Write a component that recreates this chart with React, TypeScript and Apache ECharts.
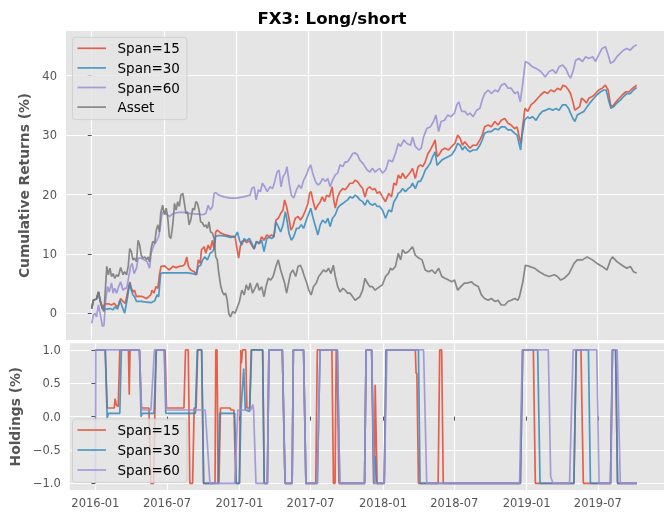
import React, { useEffect, useRef } from "react";
import * as echarts from "echarts";

// x values are days counted from 2016-01-01
const TITLE = "FX3: Long/short";
const X_TICK_DAYS = [0, 182, 366, 547, 731, 912, 1096, 1277];
const X_TICK_LABELS = ["2016-01", "2016-07", "2017-01", "2017-07", "2018-01", "2018-07", "2019-01", "2019-07"];
const RET_TICKS = [0, 10, 20, 30, 40];
const RET_TICK_LABELS = ["0", "10", "20", "30", "40"];
const HOLD_TICKS = [-1, -0.5, 0, 0.5, 1];
const HOLD_TICK_LABELS = ["\u22121.0", "\u22120.5", "0.0", "0.5", "1.0"];
const RET_NAMES = ["Span=15", "Span=30", "Span=60", "Asset"];
const HOLD_NAMES = ["Span=15", "Span=30", "Span=60"];

const assetReturns: [number, number][] = [
  [0,0.8],[4,2.2],[12,2.4],[17,3.6],[21,2.2],[27,0.8],[31,0.3],[38,7.9],[42,6.5],[46,7.6],[50,6.2],[54,6.7],[58,5.9],[63,6.5],[67,6.2],[73,7.7],[79,6.5],[83,7.0],[88,6.5],[92,7.9],[96,10.9],[100,10.4],[104,9.0],[108,9.3],[113,8.7],[117,12.3],[121,11.5],[125,9.8],[129,9.3],[134,9.5],[138,9.0],[142,9.5],[146,8.7],[150,10.9],[154,12.1],[159,11.8],[163,14.0],[167,14.9],[171,13.7],[174,16.8],[179,18.2],[184,16.6],[188,17.7],[192,16.0],[196,12.9],[200,12.6],[205,15.2],[209,18.5],[213,17.4],[217,18.8],[221,18.0],[225,19.9],[230,20.2],[234,18.5],[238,16.8],[242,17.1],[246,14.9],[250,15.7],[255,17.7],[259,17.4],[263,18.8],[267,18.5],[271,17.4],[275,15.4],[280,15.2],[284,14.6],[288,14.9],[292,14.3],[296,15.4],[300,13.7],[305,13.5],[309,12.6],[313,9.5],[317,9.0],[321,6.7],[326,4.5],[330,3.6],[334,3.1],[338,3.4],[342,2.2],[346,0],[350,-0.6],[356,0.3],[362,0],[368,1.1],[373,2.0],[379,3.9],[385,3.1],[390,4.8],[396,3.9],[400,5.1],[406,3.4],[412,4.2],[418,5.1],[423,3.9],[429,4.5],[435,2.8],[440,4.5],[446,5.9],[452,5.6],[458,6.2],[465,7.9],[471,9.0],[477,7.3],[482,6.2],[487,5.1],[492,3.4],[497,5.1],[502,6.7],[508,7.3],[515,6.2],[521,7.9],[527,8.1],[532,7.3],[537,6.2],[543,5.1],[548,3.9],[554,3.1],[560,4.5],[567,5.1],[573,6.2],[579,6.7],[585,7.3],[592,7.0],[598,7.6],[604,6.7],[610,8.1],[615,6.2],[621,4.5],[627,3.6],[634,4.2],[640,3.9],[646,3.4],[652,3.4],[659,2.8],[665,2.2],[671,2.5],[677,2.8],[684,3.9],[690,5.9],[696,5.1],[702,4.5],[709,4.5],[715,3.9],[721,4.2],[727,4.5],[734,4.8],[742,6.2],[750,6.8],[754,7.6],[759,7.3],[767,7.9],[774,10.1],[780,9.0],[785,10.7],[792,10.1],[800,10.4],[810,11.2],[817,9.8],[826,9.3],[834,9.0],[842,7.3],[851,7.0],[859,7.3],[867,6.7],[876,7.6],[884,6.2],[892,5.9],[901,5.6],[909,5.3],[916,5.6],[924,3.9],[932,4.5],[941,5.1],[949,5.1],[959,5.3],[967,4.8],[976,4.5],[984,3.1],[992,2.5],[1001,2.2],[1009,2.5],[1018,2.0],[1026,2.2],[1034,1.4],[1043,1.4],[1051,2.0],[1059,2.2],[1068,2.5],[1076,2.2],[1080,2.8],[1088,5.1],[1095,8.1],[1105,7.9],[1118,7.6],[1130,7.0],[1143,6.5],[1155,6.2],[1168,6.5],[1176,6.2],[1184,5.6],[1193,5.9],[1205,6.7],[1218,8.4],[1226,9.0],[1239,9.0],[1251,9.5],[1264,9.0],[1276,8.4],[1289,7.9],[1301,7.3],[1310,9.0],[1315,9.5],[1326,8.7],[1339,8.1],[1351,7.6],[1360,7.9],[1368,7.0],[1376,6.8]
];

const span60Returns: [number, number][] = [
  [0,-1.7],[4,-0.3],[8,0],[12,-0.6],[17,1.4],[22,-0.3],[27,-2.2],[31,-2.0],[35,2.2],[40,4.5],[44,3.6],[50,5.1],[54,3.4],[58,4.2],[63,3.4],[68,4.5],[73,5.3],[79,3.9],[83,4.2],[88,4.2],[92,5.6],[98,7.9],[102,8.4],[107,6.7],[113,7.6],[117,9.3],[124,9.3],[132,9.0],[140,8.7],[146,7.6],[150,10.1],[157,11.5],[163,12.1],[169,12.9],[173,14.6],[177,16.6],[180,17.1],[188,16.8],[196,16.3],[205,16.8],[213,16.9],[221,17.0],[230,17.0],[238,17.0],[246,16.8],[255,16.8],[263,16.7],[271,16.7],[280,16.6],[288,16.8],[294,18.2],[299,17.4],[305,18.0],[309,20.2],[313,20.3],[321,19.9],[334,19.6],[350,19.4],[366,19.4],[383,19.6],[400,19.9],[404,21.0],[410,21.3],[415,19.1],[421,20.8],[426,20.5],[431,21.9],[437,21.3],[443,20.5],[450,21.3],[457,21.0],[462,22.2],[468,23.8],[473,24.1],[478,21.3],[483,23.0],[489,23.6],[493,24.7],[498,22.2],[504,19.9],[510,19.4],[517,20.8],[523,21.6],[529,21.0],[535,22.4],[542,23.3],[548,24.4],[553,25.0],[558,23.6],[565,22.2],[571,21.6],[577,21.9],[583,22.7],[590,22.2],[596,22.7],[602,21.3],[608,22.4],[615,23.3],[621,23.6],[627,25.0],[634,24.7],[640,25.5],[646,25.5],[652,26.1],[659,26.9],[665,27.0],[671,26.7],[677,25.8],[684,25.3],[690,24.7],[696,24.1],[702,23.8],[709,24.4],[715,23.8],[721,24.1],[727,24.4],[734,23.6],[742,24.1],[750,25.8],[759,25.5],[767,26.9],[774,28.6],[780,28.1],[788,29.2],[796,28.6],[805,28.3],[810,29.7],[817,28.1],[826,27.5],[832,27.8],[838,29.7],[846,31.1],[855,31.4],[863,32.3],[869,33.4],[876,30.6],[882,32.3],[891,32.5],[899,33.4],[907,33.1],[916,33.7],[922,35.1],[927,35.6],[934,34.0],[942,34.0],[949,33.4],[955,33.7],[963,33.1],[972,34.2],[980,34.5],[986,35.9],[992,37.0],[1001,37.6],[1009,37.0],[1018,37.6],[1026,37.3],[1034,38.4],[1043,38.7],[1051,37.9],[1059,37.9],[1068,37.0],[1076,37.3],[1082,35.6],[1088,38.5],[1095,42.4],[1103,42.1],[1113,41.5],[1123,41.2],[1134,40.7],[1145,39.8],[1155,40.7],[1164,41.0],[1172,40.4],[1180,41.5],[1189,41.8],[1197,41.2],[1204,40.1],[1209,39.6],[1215,40.7],[1222,42.6],[1230,42.9],[1239,42.4],[1247,43.2],[1255,42.9],[1265,43.2],[1272,42.4],[1280,43.5],[1289,44.6],[1297,44.9],[1304,43.5],[1310,42.1],[1318,42.4],[1326,43.2],[1335,43.8],[1343,44.3],[1351,44.6],[1360,44.3],[1368,44.9],[1376,45.2]
];

const span15Returns: [number, number][] = [
  [0,0.8],[4,2.2],[12,2.4],[17,3.6],[21,2.2],[27,0.8],[29,1.1],[33,1.6],[42,1.6],[50,1.4],[57,1.7],[63,1.1],[68,1.4],[73,2.5],[79,2.0],[85,1.7],[90,3.4],[96,5.3],[100,4.2],[104,3.6],[108,3.9],[113,2.8],[118,2.9],[129,2.8],[138,2.5],[144,2.8],[149,3.1],[152,3.9],[157,3.4],[162,4.5],[167,4.2],[171,6.5],[175,7.9],[184,8.0],[190,7.6],[196,7.3],[205,7.9],[213,7.7],[221,7.9],[230,8.0],[235,8.3],[240,9.5],[244,7.9],[250,7.3],[259,7.0],[265,6.5],[269,9.0],[274,8.4],[277,10.7],[284,11.2],[288,10.1],[294,11.5],[299,10.7],[305,12.3],[309,10.7],[313,13.7],[317,14.0],[326,13.5],[338,13.2],[350,13.0],[362,12.9],[366,11.2],[371,9.3],[375,11.2],[379,12.1],[385,12.3],[391,11.9],[398,12.2],[404,11.5],[410,10.8],[416,12.1],[423,11.8],[429,12.9],[435,12.3],[442,13.2],[448,12.9],[454,13.2],[460,12.9],[465,15.7],[471,16.0],[477,16.8],[483,17.4],[487,19.1],[492,18.0],[497,16.3],[503,14.0],[508,14.6],[514,16.0],[521,16.3],[527,15.7],[533,16.3],[540,17.4],[546,18.5],[550,20.2],[554,20.5],[558,19.1],[565,17.4],[571,18.2],[577,18.8],[582,19.6],[588,18.8],[593,19.9],[600,19.6],[607,21.3],[611,19.1],[615,17.7],[621,19.6],[627,20.5],[634,21.0],[640,20.8],[646,21.3],[652,21.9],[659,21.9],[665,22.4],[671,22.2],[677,21.6],[684,21.0],[690,19.6],[696,21.0],[702,21.3],[709,20.8],[715,21.0],[721,20.2],[727,20.5],[734,19.6],[742,18.8],[750,20.2],[757,19.6],[763,21.9],[769,21.6],[774,23.3],[780,22.7],[785,23.6],[792,22.7],[799,23.3],[805,23.8],[810,24.4],[817,22.7],[824,24.7],[830,25.0],[836,24.7],[842,25.5],[849,26.9],[855,27.5],[861,28.3],[867,29.2],[872,26.4],[877,26.7],[884,27.5],[892,27.8],[901,27.5],[909,28.1],[917,28.6],[924,30.0],[930,29.5],[936,28.3],[942,28.9],[949,28.3],[955,27.8],[963,28.3],[972,28.3],[980,29.2],[986,30.0],[992,31.4],[1001,31.7],[1009,31.4],[1018,32.3],[1026,31.7],[1034,32.5],[1043,32.8],[1051,32.0],[1059,31.7],[1068,31.1],[1074,31.4],[1080,29.5],[1084,28.6],[1088,31.4],[1094,34.5],[1101,34.0],[1109,35.1],[1118,35.6],[1126,36.2],[1134,36.8],[1143,37.3],[1151,37.0],[1159,37.6],[1168,37.3],[1176,37.9],[1184,37.6],[1190,38.4],[1197,38.2],[1204,37.6],[1209,37.0],[1215,35.6],[1220,34.2],[1226,34.5],[1232,34.8],[1237,36.2],[1243,35.9],[1249,35.4],[1255,36.2],[1264,36.5],[1272,37.0],[1280,37.6],[1289,37.9],[1297,38.4],[1304,37.6],[1310,35.1],[1315,34.8],[1324,35.6],[1332,36.2],[1340,36.8],[1349,37.3],[1357,37.3],[1366,37.9],[1376,38.4]
];

const span30Returns: [number, number][] = [
  [0,0.8],[4,2.2],[12,2.4],[17,3.6],[21,2.2],[27,0.8],[29,0.7],[38,0.7],[46,0.8],[54,0.6],[58,1.1],[65,0.7],[71,2.2],[77,1.1],[83,0],[89,2.2],[96,5.1],[100,3.9],[104,3.1],[108,2.8],[113,2.0],[125,2.0],[138,1.9],[150,1.8],[159,2.1],[165,3.1],[169,2.8],[174,6.7],[179,6.8],[192,6.8],[209,6.8],[225,6.8],[242,6.8],[255,6.7],[263,6.5],[269,7.9],[275,8.1],[280,9.0],[285,9.5],[292,9.0],[299,10.1],[305,10.4],[309,10.9],[313,13.0],[321,13.1],[338,13.0],[351,12.8],[362,12.9],[368,13.7],[373,12.3],[379,11.5],[385,12.6],[391,12.2],[398,12.6],[404,11.8],[410,10.9],[416,12.1],[423,11.7],[429,12.3],[435,10.4],[442,12.6],[448,12.8],[454,12.6],[460,12.9],[465,15.4],[471,14.6],[477,13.7],[483,14.9],[489,17.1],[493,15.7],[498,13.5],[504,12.3],[510,12.9],[517,14.3],[523,14.3],[529,14.9],[535,14.3],[542,15.7],[548,16.8],[553,17.7],[558,16.3],[565,14.6],[571,13.2],[577,14.9],[583,15.7],[590,15.2],[596,16.0],[602,14.6],[608,16.0],[615,16.6],[621,17.7],[627,18.2],[634,18.5],[640,18.8],[646,19.1],[652,19.6],[659,19.4],[665,19.9],[671,19.6],[677,19.1],[684,18.8],[690,18.2],[696,19.1],[702,18.5],[709,18.2],[715,18.5],[721,18.0],[727,18.0],[734,17.4],[742,16.0],[750,17.4],[757,17.1],[763,18.8],[769,19.4],[774,20.2],[780,20.5],[785,21.0],[792,20.5],[799,21.0],[805,21.3],[810,21.9],[817,21.0],[824,22.2],[830,22.2],[836,23.0],[842,24.1],[849,24.7],[855,25.3],[861,26.4],[867,27.2],[872,24.9],[877,25.3],[884,25.8],[892,26.1],[901,26.4],[909,26.7],[917,27.5],[924,28.6],[930,28.3],[936,27.5],[942,28.1],[949,27.5],[955,27.2],[963,27.5],[972,27.5],[980,28.3],[986,29.2],[992,30.3],[1001,30.6],[1009,30.6],[1018,31.1],[1026,30.9],[1034,31.4],[1043,31.4],[1051,30.9],[1059,30.9],[1068,30.3],[1074,30.0],[1080,28.3],[1083,27.5],[1086,29.7],[1093,32.5],[1101,33.1],[1105,32.8],[1113,33.1],[1122,32.5],[1130,33.4],[1138,34.0],[1147,34.2],[1155,34.5],[1164,34.2],[1172,34.5],[1180,34.2],[1189,35.1],[1197,35.1],[1204,34.5],[1209,33.7],[1215,32.8],[1220,32.3],[1226,33.4],[1234,33.7],[1243,34.0],[1251,34.8],[1260,35.6],[1268,36.2],[1276,36.8],[1285,37.3],[1293,37.6],[1299,37.6],[1305,35.9],[1311,34.5],[1318,34.8],[1326,35.4],[1335,35.9],[1343,36.5],[1351,37.0],[1360,37.0],[1368,37.6],[1376,38.0]
];

const span15Holdings: [number, number][] = [
  [0,1],[25,1],[30,0.13],[48,0.13],[50,0.27],[53,0.18],[58,0.15],[62,1],[84,1],[86,0.33],[88,1],[112,1],[117,0.13],[136,0.13],[141,-1],[148,-1],[154,1],[177,1],[181,0.13],[225,0.13],[229,1],[236,1],[240,-1],[247,-1],[251,0.13],[256,0.13],[260,1],[270,1],[275,-1],[304,-1],[306,1],[309,1],[312,-1],[314,-1],[318,0.13],[342,0.13],[345,0.1],[352,0.1],[357,-1],[366,-1],[369,1],[371,0.8],[374,1],[382,1],[385,0.13],[392,0.13],[396,1],[425,1],[429,-1],[437,-1],[441,1],[475,1],[482,-1],[500,-1],[503,1],[529,1],[535,-1],[560,-1],[564,1],[601,1],[605,-1],[609,-1],[612,1],[614,1],[619,-1],[684,-1],[688,1],[702,1],[707,-1],[709,-1],[711,0.48],[716,-1],[734,-1],[739,1],[813,1],[815,0.65],[817,0.65],[821,-1],[871,-1],[875,1],[880,1],[884,-1],[1080,-1],[1086,1],[1113,1],[1118,-1],[1216,-1],[1222,1],[1234,1],[1240,-1],[1309,-1],[1314,1],[1322,1],[1327,-1],[1376,-1]
];

const span30Holdings: [number, number][] = [
  [0,1],[25,1],[30,-0.02],[33,0.05],[62,0.05],[66,1],[112,1],[116,0],[119,0.05],[149,0.05],[155,1],[175,1],[179,0.05],[254,0.05],[259,1],[270,1],[275,-1],[312,-1],[316,0.05],[354,0.05],[358,-1],[366,-1],[370,0.1],[377,0.72],[381,0.1],[392,0.08],[397,1],[425,1],[429,-1],[437,-1],[441,1],[475,1],[482,-1],[500,-1],[503,1],[529,1],[535,-1],[564,-1],[571,1],[615,1],[621,-1],[684,-1],[688,1],[702,1],[708,-1],[709,-0.6],[711,-0.6],[714,-1],[734,-1],[739,1],[821,1],[825,-1],[1080,-1],[1086,1],[1124,1],[1130,-1],[1216,-1],[1222,1],[1253,1],[1258,-1],[1309,-1],[1314,1],[1322,1],[1327,-1],[1376,-1]
];

const span60Holdings: [number, number][] = [
  [0,-1],[1,1],[112,1],[117,0.1],[141,0.1],[150,1],[175,1],[180,0.1],[279,0.1],[291,-1],[354,-1],[362,0.1],[395,0.1],[400,0.18],[402,0.1],[408,-1],[437,-1],[441,1],[475,1],[482,-1],[500,-1],[503,1],[529,1],[535,-1],[564,-1],[571,1],[615,1],[621,-1],[684,-1],[688,1],[702,1],[709,-1],[734,-1],[741,1],[834,1],[842,-1],[1078,-1],[1085,1],[1151,1],[1157,-0.9],[1163,-1],[1205,-1],[1214,1],[1274,1],[1280,-1],[1310,-1],[1314,1],[1326,1],[1334,-1],[1376,-1]
];

const COLORS = ["#E24A33", "#348ABD", "#988ED5", "#777777"];
const FONT = "DejaVu Sans";
const X_MIN = -65;
const X_MAX = 1445;
const LINE_W = 1.7;
const LINE_OP = 0.85;

function legendGraphic(names: string[], x: number, y: number, w: number, rowGap: number) {
  const h = 11 + (names.length - 1) * rowGap + 12.5;
  const els: any[] = [
    {
      type: "rect",
      z: 100,
      shape: { x, y, width: w, height: h, r: 3 },
      style: { fill: "rgba(229,229,229,0.8)", stroke: "rgba(204,204,204,0.8)", lineWidth: 1 },
    },
  ];
  names.forEach((n, i) => {
    const ry = y + 11 + i * rowGap;
    els.push({
      type: "line",
      z: 101,
      shape: { x1: x + 5, y1: ry, x2: x + 33.5, y2: ry },
      style: { stroke: COLORS[i], lineWidth: LINE_W, opacity: LINE_OP },
    });
    els.push({
      type: "text",
      z: 101,
      x: x + 45,
      y: ry,
      style: { text: n, fontSize: 13.5, fontFamily: FONT, fill: "#000", verticalAlign: "middle", align: "left" },
    });
  });
  return els;
}

export default function App() {
  const ref = useRef<HTMLDivElement>(null);
  useEffect(() => {
    if (!ref.current) return;
    const chart = echarts.init(ref.current, undefined, { renderer: "svg" });
    const tickStyle = { show: true, length: 4, lineStyle: { color: "#555555", width: 1 } };
    const splitStyle = { show: true, lineStyle: { color: "#FFFFFF", width: 1.2 } };
    const xLabelFmt = (v: number) => {
      const i = X_TICK_DAYS.indexOf(v);
      return i >= 0 ? X_TICK_LABELS[i] : "";
    };
    const retFmt = (v: number) => {
      const i = RET_TICKS.indexOf(v);
      return i >= 0 ? RET_TICK_LABELS[i] : "";
    };
    const holdFmt = (v: number) => {
      const i = HOLD_TICKS.indexOf(v);
      return i >= 0 ? HOLD_TICK_LABELS[i] : "";
    };
    const retData = [span15Returns, span30Returns, span60Returns, assetReturns];
    const holdData = [span15Holdings, span30Holdings, span60Holdings];
    const series: any[] = [];
    retData.forEach((d, i) => {
      series.push({
        type: "line",
        name: RET_NAMES[i],
        xAxisIndex: 0,
        yAxisIndex: 0,
        data: d,
        symbol: "none",
        color: COLORS[i],
        lineStyle: { width: LINE_W, opacity: LINE_OP, color: COLORS[i] },
        z: 2 + i,
      });
    });
    holdData.forEach((d, i) => {
      series.push({
        type: "line",
        name: HOLD_NAMES[i],
        xAxisIndex: 1,
        yAxisIndex: 1,
        data: d,
        symbol: "none",
        color: COLORS[i],
        lineStyle: { width: LINE_W, opacity: LINE_OP, color: COLORS[i] },
        z: 2 + i,
      });
    });
    const nameStyle = { fontSize: 13.8, fontWeight: "bold", color: "#555555", fontFamily: FONT };
    const option: any = {
      animation: false,
      textStyle: { fontFamily: FONT },
      title: {
        text: TITLE,
        left: "center",
        top: 0,
        padding: [10, 0, 0, 71],
        textStyle: { fontSize: 16.6, fontWeight: "bold", color: "#000", fontFamily: FONT },
      },
      grid: [
        { left: 66, right: -5, top: 31, height: 309, show: true, backgroundColor: "#E5E5E5", borderWidth: 0 },
        { left: 66, right: -5, top: 343.3, height: 146.7, show: true, backgroundColor: "#E5E5E5", borderWidth: 0 },
      ],
      xAxis: [
        {
          type: "value",
          gridIndex: 0,
          min: X_MIN,
          max: X_MAX,
          axisLine: { show: false },
          axisTick: { show: false, customValues: X_TICK_DAYS },
          axisLabel: { show: false, customValues: X_TICK_DAYS },
          splitLine: splitStyle,
        },
        {
          type: "value",
          gridIndex: 1,
          min: X_MIN,
          max: X_MAX,
          axisLine: { show: false },
          axisTick: { ...tickStyle, customValues: X_TICK_DAYS },
          axisLabel: {
            customValues: X_TICK_DAYS,
            formatter: xLabelFmt,
            color: "#555555",
            fontSize: 11.5,
            fontFamily: FONT,
            margin: 7,
          },
          splitLine: splitStyle,
        },
      ],
      yAxis: [
        {
          type: "value",
          gridIndex: 0,
          min: -4.49,
          max: 47.53,
          name: "Cumulative Returns (%)",
          nameLocation: "middle",
          nameGap: 30,
          nameTextStyle: nameStyle,
          axisLine: { show: false },
          axisTick: { ...tickStyle, customValues: RET_TICKS },
          axisLabel: {
            customValues: RET_TICKS,
            formatter: retFmt,
            color: "#555555",
            fontSize: 11.5,
            fontFamily: FONT,
            margin: 9,
          },
          splitLine: splitStyle,
        },
        {
          type: "value",
          gridIndex: 1,
          min: -1.1,
          max: 1.1,
          name: "Holdings (%)",
          nameLocation: "middle",
          nameGap: 30,
          nameTextStyle: nameStyle,
          axisLine: { show: false },
          axisTick: { ...tickStyle, customValues: HOLD_TICKS },
          axisLabel: {
            customValues: HOLD_TICKS,
            formatter: holdFmt,
            color: "#555555",
            fontSize: 11.5,
            fontFamily: FONT,
            margin: 9,
          },
          splitLine: splitStyle,
        },
      ],
      graphic: [
        ...legendGraphic(RET_NAMES, 72.5, 37.3, 114.5, 19.6),
        ...legendGraphic(HOLD_NAMES, 72.5, 419, 114.5, 20),
      ],
      series,
    };
    chart.setOption(option);
    return () => chart.dispose();
  }, []);
  return <div ref={ref} style={{ position: "fixed", left: 0, top: 0, width: 664, height: 513 }} />;
}
